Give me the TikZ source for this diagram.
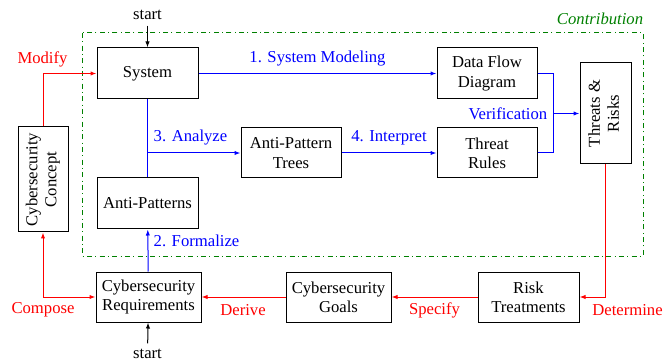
\documentclass[tikz,border=0pt]{standalone}
\usepackage{fontspec}
\setmainfont{LiberationSerif}[Extension=.ttf, UprightFont=*-Regular, ItalicFont=*-Italic, BoldFont=*-Bold, BoldItalicFont=*-BoldItalic]
\usepackage{graphicx}
\usetikzlibrary{arrows.meta}
\definecolor{cgreen}{RGB}{0,128,0}
\begin{document}
\begin{tikzpicture}[x=0.6pt,y=-0.6pt,
  font=\rmfamily\fontsize{10}{11.5}\selectfont,
  box/.style={draw, line width=0.6pt, align=center, inner sep=0pt},
  conn/.style={line width=0.6pt, -{Latex[length=3.6pt,width=2.6pt]}},
  blu/.style={draw=blue},
  rd/.style={draw=red},
  bl/.style={text=blue},
  rl/.style={text=red}]
\useasboundingbox (0,0) rectangle (663,362);
% contribution frame
\draw[cgreen, line width=0.6pt, dash dot] (82,33) rectangle (643,256);
\node[anchor=east, text=cgreen, font=\rmfamily\fontsize{10}{11.5}\selectfont\itshape] (contrib) at (649,19) {Contribution};
% boxes
\node[box, minimum width=60.6pt, minimum height=30.6pt] (sys) at (147.5,73.5) {System};
\node[box, minimum width=60pt, minimum height=30.6pt] (dfd) at (487,73.5) {Data Flow\\Diagram};
\node[box, minimum width=30.6pt, minimum height=60.6pt] (thr) at (605.5,113.5) {\rotatebox{90}{\begin{tabular}{@{}c@{}}Threats \&\\Risks\end{tabular}}};
\node[box, minimum width=60pt, minimum height=30pt] (apt) at (291,153) {Anti-Pattern\\Trees};
\node[box, minimum width=60pt, minimum height=30pt] (tr) at (487,153) {Threat\\Rules};
\node[box, minimum width=60.6pt, minimum height=30.6pt] (ap) at (147.5,203.5) {Anti-Patterns};
\node[box, minimum width=30pt, minimum height=63pt] (cc) at (43,179.5) {\rotatebox{90}{\begin{tabular}{@{}c@{}}Cybersecurity\\Concept\end{tabular}}};
\node[box, minimum width=63pt, minimum height=30pt] (req) at (148.5,297) {Cybersecurity\\Requirements};
\node[box, minimum width=63pt, minimum height=30pt] (goals) at (338.5,297) {Cybersecurity\\Goals};
\node[box, minimum width=60.6pt, minimum height=30pt] (risk) at (528.5,297) {Risk\\Treatments};
% start nodes
\node (s1) at (147.5,15) {start};
\node (s2) at (147.5,354) {start};
\draw[conn] (s1) -- (sys);
\draw[conn] (s2) -- (req);
% blue connectors
\draw[conn, blu] (sys) -- (dfd);
\node[bl] (l1) at (317.5,59) {1. System Modeling};
\coordinate (j1) at (147.5,153);
\draw[blu, line width=0.6pt] (sys.south) -- (ap.north);
\draw[conn, blu] (j1) -- (apt.west);
\node[bl] (l3) at (190.5,138) {3. Analyze};
\draw[conn, blu] (apt) -- (tr);
\node[bl] (l4) at (389,138) {4. Interpret};
\coordinate (vj) at (553,113.5);
\draw[blu, line width=0.6pt] (dfd.east) -| (vj);
\draw[blu, line width=0.6pt] (tr.east) -| (vj);
\draw[conn, blu] (vj) -- (thr.west);
\node[bl, anchor=east, inner sep=0pt] (lv) at (547.5,114) {Verification};
\draw[conn, blu] (req) -- (ap);
\node[bl] (l2) at (196.5,241) {2. Formalize};
% red connectors
\draw[conn, rd] (thr.south) |- (risk.east);
\node[rl] (ld) at (627.5,310) {Determine};
\draw[conn, rd] (risk) -- (goals);
\node[rl] (lsp) at (434.5,310) {Specify};
\draw[conn, rd] (goals) -- (req);
\node[rl] (lde) at (243,310) {Derive};
\draw[line width=0.6pt, rd, {Latex[length=3.6pt,width=2.6pt]}-{Latex[length=3.6pt,width=2.6pt]}] (cc.south) |- (req.west);
\node[rl] (lc) at (43,310) {Compose};
\draw[conn, rd] (cc.north) |- (sys.west);
\node[rl] (lm) at (42.5,59) {Modify};
\end{tikzpicture}
\end{document}
